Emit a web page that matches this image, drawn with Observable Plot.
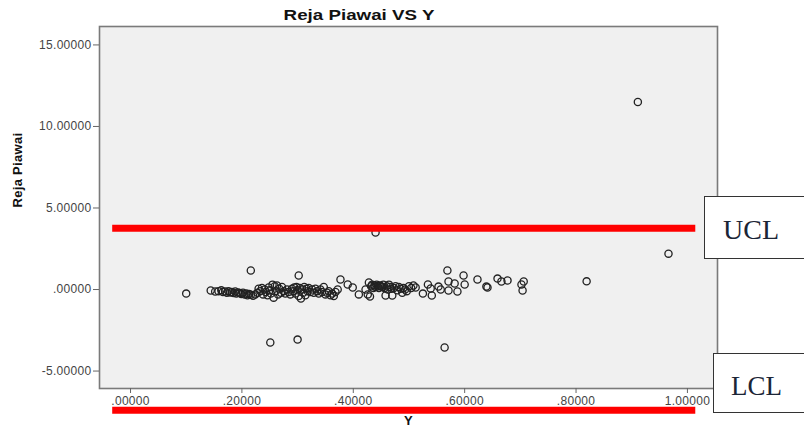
<!DOCTYPE html>
<html><head><meta charset="utf-8">
<script src="https://cdn.jsdelivr.net/npm/d3@7"></script>
<script src="https://cdn.jsdelivr.net/npm/@observablehq/plot@0.6"></script>
<style>
body{margin:0;background:#fff;}
#wrap{position:relative;width:804px;height:431px;overflow:hidden;font-family:"Liberation Sans",Arial,sans-serif;}
#title{height:24px;position:relative;}
#title span{position:absolute;left:359px;top:7px;font-weight:bold;font-size:15px;line-height:15px;transform:translateX(-50%) scaleX(1.25);white-space:nowrap;color:#111;}
.box{position:absolute;background:#fff;border:1.5px solid #333;box-sizing:border-box;font-family:"Liberation Serif","Times New Roman",serif;color:#1b2536;white-space:nowrap;}
#ucl{left:704px;top:196px;width:120px;height:63px;font-size:28px;line-height:28px;padding:19px 0 0 18px;}
#lcl{left:713px;top:353px;width:120px;height:60px;font-size:27px;line-height:27px;padding:19px 0 0 17px;}
</style></head>
<body><div id="wrap"><div id="title"><span>Reja Piawai VS Y</span></div><div id="chart"></div>
<div class="box" id="ucl">UCL</div><div class="box" id="lcl">LCL</div></div>
<script>
// [Y, Reja Piawai]
const points = [
  [0.911,11.5],[0.966,2.2],[0.819,0.5],[0.44,3.5],[0.251,-3.25],[0.300,-3.07],[0.564,-3.56],[0.216,1.17],[0.302,0.86],[0.10,-0.25],
  [0.144,-0.06],[0.152,-0.12],[0.158,-0.1],[0.163,-0.05],[0.166,-0.15],[0.17,-0.12],[0.173,-0.2],[0.176,-0.1],[0.179,-0.18],[0.182,-0.15],
  [0.185,-0.22],[0.188,-0.12],[0.19,-0.25],[0.193,-0.18],[0.196,-0.22],[0.199,-0.28],[0.202,-0.2],[0.205,-0.3],[0.208,-0.25],[0.21,-0.35],
  [0.213,-0.28],[0.216,-0.32],[0.22,-0.38],[0.224,-0.3],
  [0.228,-0.2],[0.23,0.05],[0.233,-0.1],[0.236,0.1],[0.238,-0.3],[0.241,0.0],[0.243,-0.15],[0.246,-0.35],[0.248,0.12],[0.25,-0.05],
  [0.252,-0.25],[0.255,0.3],[0.257,-0.5],[0.259,0.2],[0.261,-0.1],[0.263,0.25],[0.265,-0.3],[0.267,0.05],[0.27,-0.2],[0.272,0.15],
  [0.275,-0.1],[0.278,-0.25],[0.281,0.0],[0.284,-0.15],[0.287,-0.3],
  [0.29,0.05],[0.292,-0.1],[0.294,0.12],[0.296,-0.25],[0.298,0.15],[0.3,-0.05],[0.302,-0.4],[0.304,0.1],[0.306,-0.55],[0.308,0.0],
  [0.31,-0.2],[0.312,0.15],[0.314,-0.35],[0.316,0.05],[0.318,-0.1],[0.32,0.1],[0.323,-0.15],[0.326,0.0],[0.329,-0.2],[0.332,0.05],
  [0.335,-0.1],[0.338,-0.25],[0.341,0.0],[0.344,-0.15],[0.347,0.15],[0.35,-0.3],[0.353,-0.2],[0.356,-0.1],[0.359,-0.35],[0.362,-0.25],
  [0.365,-0.4],[0.368,-0.15],
  [0.372,0.0],[0.377,0.61],[0.39,0.31],[0.399,0.12],[0.41,-0.3],[0.422,0.0],[0.426,-0.3],[0.428,0.43],[0.43,-0.43],
  [0.432,0.2],[0.434,0.3],[0.436,0.1],[0.438,0.25],[0.44,0.15],[0.442,0.3],[0.444,0.2],[0.446,0.1],[0.448,0.25],[0.45,0.2],
  [0.452,0.15],[0.454,0.3],[0.456,0.1],[0.458,-0.37],[0.46,0.2],[0.462,0.0],[0.464,0.3],[0.466,0.15],[0.468,0.05],[0.47,-0.37],
  [0.473,0.1],[0.476,0.2],[0.479,-0.05],[0.482,0.15],[0.485,0.05],[0.488,-0.2],[0.49,0.1],[0.493,0.0],[0.496,-0.1],
  [0.5,0.2],[0.504,0.1],[0.508,0.25],[0.512,0.12],
  [0.525,-0.25],[0.534,0.31],[0.539,0.06],[0.541,-0.37],[0.553,0.18],[0.557,0.0],[0.569,1.17],[0.571,0.49],[0.571,-0.06],
  [0.582,0.37],[0.587,-0.12],[0.598,0.86],[0.6,0.31],[0.623,0.61],[0.639,0.18],[0.641,0.12],[0.659,0.67],[0.666,0.49],
  [0.677,0.55],[0.702,0.31],[0.706,0.49],[0.704,-0.06]
];
const limits = {ucl: 3.75, lcl: -7.4};
const xTicks = [0, 0.2, 0.4, 0.6, 0.8, 1.0];
const yTicks = [-5, 0, 5, 10, 15];

const fmt = d => d.toFixed(5).replace(/^(-?)0\./, "$1.");

const chart = Plot.plot({
  width: 804, height: 407,
  marginTop: 2, marginBottom: 43, marginLeft: 99, marginRight: 87,
  x: {domain: [-0.0557, 1.054], label: null},
  y: {domain: [-6.07, 16.13], label: null},
  style: {fontFamily: "'Liberation Sans', Arial, sans-serif", fontSize: "12px", background: "transparent", overflow: "visible", letterSpacing: "0.3px"},
  marks: [
    Plot.frame({fill: "#f0f0f0", stroke: "none"}),
    Plot.dot(points, {x: d => d[0], y: d => d[1], r: 3.6, stroke: "#222", strokeWidth: 1.3, fill: "none"}),
    Plot.ruleY([limits.ucl], {x1: -0.032, x2: 1.015, stroke: "#ff0000", strokeWidth: 7}),
    Plot.ruleY([limits.lcl], {x1: -0.032, x2: 1.015, stroke: "#ff0000", strokeWidth: 7}),
    Plot.frame({stroke: "#7a7a7a", strokeWidth: 1.6}),
    Plot.axisY({ticks: yTicks, tickFormat: fmt, tickSize: 6, tickPadding: 2, label: null, stroke: "#666", fill: "#444"}),
    Plot.axisX({ticks: xTicks, tickFormat: fmt, tickSize: 5, tickPadding: 3, label: null, stroke: "#666", fill: "#444"}),
    Plot.text(["Reja Piawai"], {frameAnchor: "left", dx: -82, rotate: -90, fontWeight: "bold", fontSize: 13, fill: "#111"}),
    Plot.text(["Y"], {frameAnchor: "bottom", dy: 36, fontWeight: "bold", fontSize: 13, fill: "#111"})
  ]
});
document.getElementById("chart").appendChild(chart);
</script>
</body></html>
